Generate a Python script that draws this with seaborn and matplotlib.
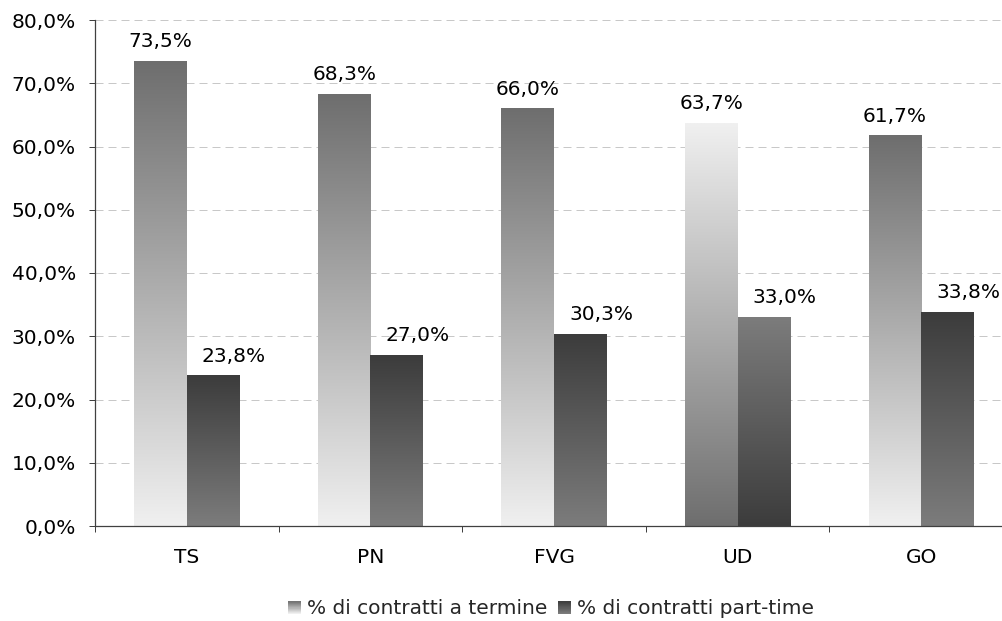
import numpy as np
import pandas as pd
import matplotlib
matplotlib.use("Agg")
import matplotlib.pyplot as plt
import seaborn as sns
from matplotlib.legend_handler import HandlerBase
from matplotlib.patches import Rectangle
from matplotlib.colors import LinearSegmentedColormap
from matplotlib.ticker import FuncFormatter, MultipleLocator, FixedLocator

# Data
categories = ["TS", "PN", "FVG", "UD", "GO"]
series_names = ["% di contratti a termine", "% di contratti part-time"]
termine = [73.5, 68.3, 66.0, 63.7, 61.7]
part_time = [23.8, 27.0, 30.3, 33.0, 33.8]
flipped = ["UD"]  # areas drawn with inverted shading

# (top, bottom) colours of each series' vertical gradient
shades = {
    series_names[0]: ("#6e6e6e", "#f0f0f0"),
    series_names[1]: ("#3c3c3c", "#7c7c7c"),
}

df = pd.DataFrame({
    "area": categories * 2,
    "serie": [series_names[0]] * len(categories) + [series_names[1]] * len(categories),
    "valore": termine + part_time,
})

sns.set_theme(style="white")
plt.rcParams["font.family"] = ["DejaVu Sans"]
FS = 14.5
AX_COLOR = "#404040"


def pct(v, _=None):
    return f"{v:.1f}".replace(".", ",") + "%"


W, H = 1003, 621
fig = plt.figure(figsize=(W / 100, H / 100), dpi=100)
ax = fig.add_axes([95 / W, (H - 526) / H, 918 / W, 506 / H])

sns.barplot(data=df, x="area", y="valore", hue="serie", order=categories,
            hue_order=series_names, width=0.572, errorbar=None, legend=False,
            linewidth=0, ax=ax)

# Replace flat bar fills with vertical gradients
grad = np.linspace(0, 1, 256).reshape(-1, 1)
for serie, cont in zip(series_names, ax.containers):
    top, bottom = shades[serie]
    for cat, bar in zip(categories, cont):
        t, b = (bottom, top) if cat in flipped else (top, bottom)
        cmap = LinearSegmentedColormap.from_list("g", [b, t])
        x0, w, h = bar.get_x(), bar.get_width(), bar.get_height()
        ax.imshow(grad, cmap=cmap, origin="lower", aspect="auto",
                  extent=[x0, x0 + w, 0, h], zorder=2, interpolation="bilinear")
        bar.set_visible(False)

# Value labels
offsets = {series_names[0]: 0, series_names[1]: 15}
for serie, cont in zip(series_names, ax.containers):
    for bar in cont:
        v = bar.get_height()
        ax.annotate(pct(v), xy=(bar.get_x() + bar.get_width() / 2, v),
                    xytext=(offsets[serie], 10), textcoords="offset points",
                    ha="center", va="baseline", fontsize=FS, color="black",
                    zorder=5)

ax.set_xlim(-0.5, len(categories) - 0.5)
ax.set_ylim(0, 80)

# Axes styling
for s in ["top", "right"]:
    ax.spines[s].set_visible(False)
for s in ["left", "bottom"]:
    ax.spines[s].set_color(AX_COLOR)
    ax.spines[s].set_linewidth(0.9)

ax.yaxis.set_major_locator(MultipleLocator(10))
ax.yaxis.set_major_formatter(FuncFormatter(pct))
ax.tick_params(axis="y", which="major", direction="out", length=4.3, width=0.72,
               color=AX_COLOR, pad=9.4, labelsize=FS, labelcolor="black", left=True)

ax.xaxis.set_minor_locator(FixedLocator(np.arange(-0.5, len(categories), 1.0)))
ax.tick_params(axis="x", which="major", length=0, pad=16, labelsize=FS, labelcolor="black")
ax.tick_params(axis="x", which="minor", direction="out", length=4.3, width=0.72,
               color=AX_COLOR, bottom=True)
ax.set_xlabel("")
ax.set_ylabel("")

ax.yaxis.grid(True, color="#c8c8c8", linestyle=(0, (8, 5)), linewidth=0.72)
ax.xaxis.grid(False)
ax.set_axisbelow(True)


class GradientHandler(HandlerBase):
    def __init__(self, top, bottom, steps=24):
        super().__init__()
        self.top, self.bottom, self.steps = top, bottom, steps

    def create_artists(self, legend, orig_handle, xdescent, ydescent, width,
                       height, fontsize, trans):
        cmap = LinearSegmentedColormap.from_list("h", [self.bottom, self.top])
        side = min(width, height)
        x0 = -xdescent + (width - side) / 2
        y0 = -ydescent + (height - side) / 2
        out = []
        for k in range(self.steps):
            out.append(Rectangle((x0, y0 + side * k / self.steps), side,
                                 side / self.steps * 1.05,
                                 facecolor=cmap(k / (self.steps - 1)),
                                 edgecolor="none", transform=trans))
        return out


handles = [Rectangle((0, 0), 1, 1) for _ in series_names]
hmap = {h: GradientHandler(*shades[s]) for h, s in zip(handles, series_names)}
fig.legend(handles=handles, labels=series_names, handler_map=hmap,
           loc="center", bbox_to_anchor=(551 / W, 1 - 609 / H), ncol=2,
           frameon=False, fontsize=FS, handlelength=0.65, handleheight=0.65,
           handletextpad=0.3, columnspacing=0.55, borderpad=0)

fig.savefig("out.png", dpi=100)
